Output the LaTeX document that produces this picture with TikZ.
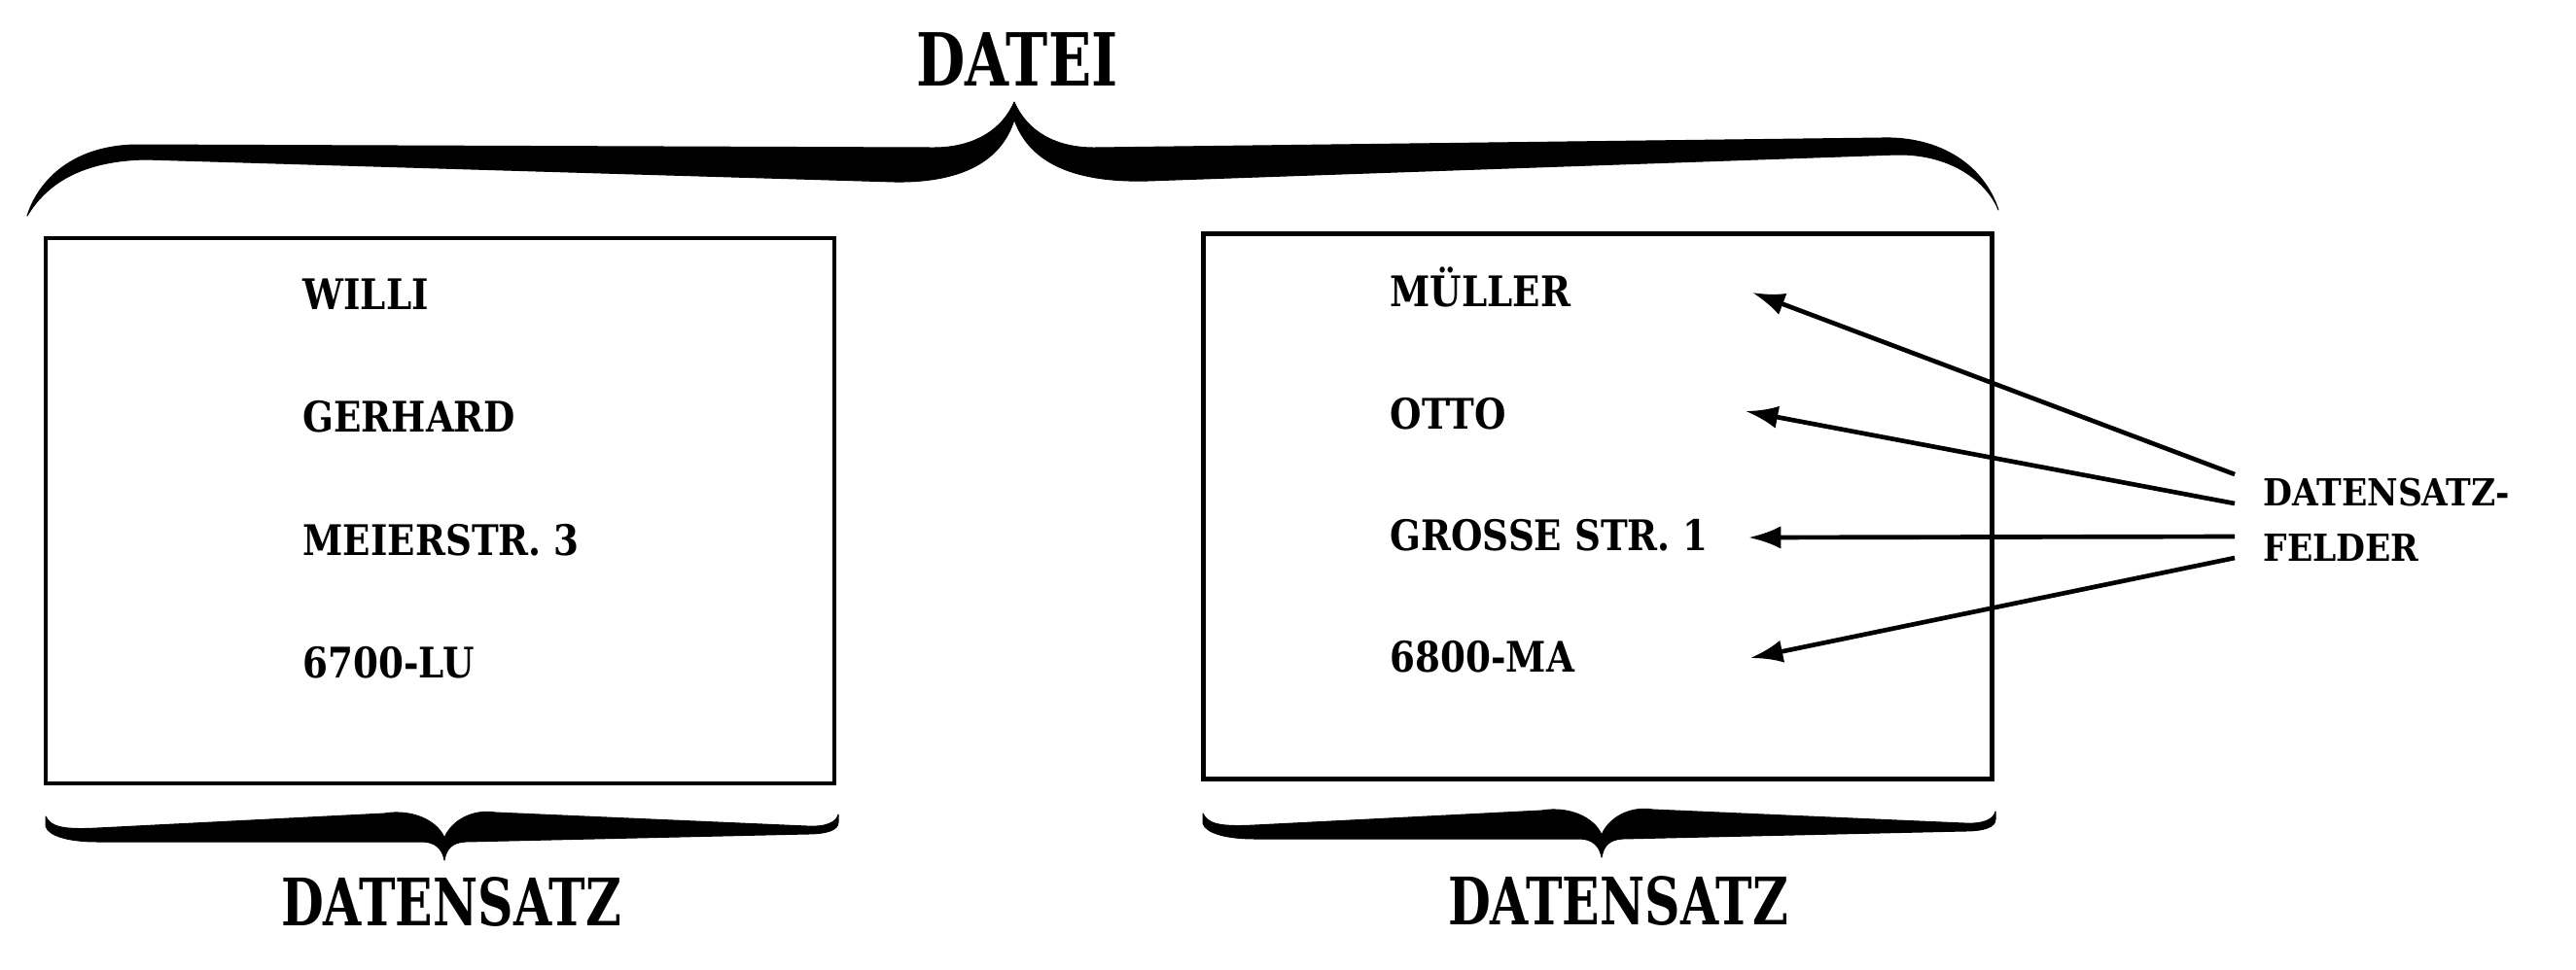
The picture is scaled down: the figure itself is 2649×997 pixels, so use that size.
\documentclass[tikz,border=0pt]{standalone}
\usepackage{fontspec}
\setmainfont{DejaVu Serif}
\newfontfamily\fieldfont[FakeStretch=0.86]{DejaVu Serif}
\newfontfamily\labelfont[FakeStretch=0.9]{DejaVu Serif}
\newfontfamily\dateifont[FakeStretch=0.77]{DejaVu Serif}
\newfontfamily\satzfont[FakeStretch=0.75]{DejaVu Serif}
\usetikzlibrary{arrows.meta}
\begin{document}
\begin{tikzpicture}[x=0.3pt,y=-0.3pt,
  fieldtext/.style={anchor=base west, inner sep=0pt, font=\fieldfont\bfseries\fontsize{13}{15}\selectfont},
  recbox/.style={draw, line width=1.4pt, minimum width=243.3pt, minimum height=168.3pt, inner sep=0pt},
  bracefill/.style={fill=black, draw=black, line width=0.3pt, line join=round},
  fieldarrow/.style={-{Latex[length=10pt,width=7pt]}, line width=1.4pt},
  biglabel/.style={anchor=base, inner sep=0pt}
]
\useasboundingbox (0,0) rectangle (2649,997);

% title
\node[biglabel, font=\dateifont\bfseries\fontsize{22.6}{26}\selectfont] (datei) at (1046,88) {DATEI};

% top brace
\path[bracefill] (28,222) .. controls (40,185) and (75,150) .. (140,149)
  -- (960,152) .. controls (1000,152) and (1030,135) .. (1043,105)
  .. controls (1056,135) and (1085,152) .. (1125,152)
  -- (1934,142) .. controls (1995,140) and (2040,170) .. (2055,216)
  .. controls (2045,190) and (2010,158) .. (1950,159)
  -- (1180,186) .. controls (1100,188) and (1058,165) .. (1043,123)
  .. controls (1030,165) and (990,188) .. (920,187)
  -- (150,164) .. controls (90,165) and (50,185) .. (28,222) -- cycle;

% record boxes
\node[recbox] (boxL) at (452.5,525.5) {};
\node[recbox] (boxR) at (1643,521) {};

% left record
\node[fieldtext] (willi) at (311,318) {WILLI};
\node[fieldtext] (gerhard) at (311,444) {GERHARD};
\node[fieldtext] (meier) at (311,571) {MEIERSTR. 3};
\node[fieldtext] (plzL) at (311,697) {6700-LU};

% right record
\node[fieldtext] (mueller) at (1429,315) {MÜLLER};
\node[fieldtext] (otto) at (1429,441) {OTTO};
\node[fieldtext] (grosse) at (1429,566) {GROSSE STR. 1};
\node[fieldtext] (plzR) at (1429,691) {6800-MA};

% bottom braces
\foreach \dx/\dy in {0/0, 1190/-3}{
\begin{scope}[shift={(\dx,\dy)}]
\path[bracefill] (47,840) .. controls (52,850) and (62,854) .. (100,852)
  -- (395,837) .. controls (425,832) and (450,845) .. (457,862)
  .. controls (464,845) and (485,832) .. (510,836)
  -- (830,850) .. controls (850,851) and (860,846) .. (862,838)
  -- (862,846) .. controls (862,854) and (850,858) .. (830,858)
  -- (478,866) .. controls (465,867) and (459,873) .. (457,885)
  .. controls (455,873) and (447,866) .. (434,866)
  -- (101,866) .. controls (70,866) and (50,860) .. (47,850) -- cycle;
\end{scope}
}

% record labels
\node[biglabel, font=\satzfont\bfseries\fontsize{20.2}{24}\selectfont] (satzL) at (464,952) {DATENSATZ};
\node[biglabel, font=\satzfont\bfseries\fontsize{20.2}{24}\selectfont] (satzR) at (1664,951) {DATENSATZ};

% field label
\node[anchor=north west, inner sep=0pt, align=left, font=\labelfont\bfseries\fontsize{11.5}{17.1}\selectfont] (felder) at (2327,491) {DATENSATZ-\\FELDER};

% arrows
\coordinate (s1) at (2298,488);
\coordinate (s2) at (2298,518);
\coordinate (s3) at (2298,552);
\coordinate (s4) at (2298,574);
\coordinate (t1) at (1802,301);
\coordinate (t2) at (1795,423);
\coordinate (t3) at (1798,553);
\coordinate (t4) at (1800,677);
\draw[fieldarrow] (s1) -- (t1);
\draw[fieldarrow] (s2) -- (t2);
\draw[fieldarrow] (s3) -- (t3);
\draw[fieldarrow] (s4) -- (t4);
\end{tikzpicture}
\end{document}
